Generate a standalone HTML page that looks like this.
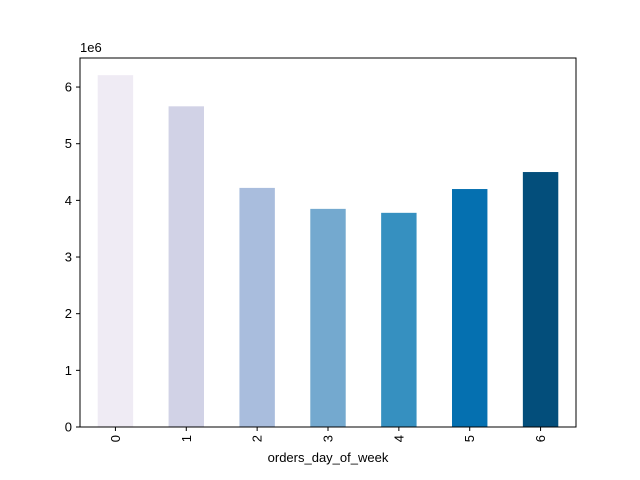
<!DOCTYPE html>
<html><head><meta charset="utf-8"><style>
body{margin:0;background:#fff;}
svg{display:block;font-family:"Liberation Sans","DejaVu Sans",sans-serif;}
</style></head><body>
<svg id="chart" width="640" height="480">
<rect width="640" height="480" fill="#fff"/>
<g id="bars"></g>
<g id="yticks"></g>
<g id="xticks"></g>
<rect x="80" y="58" width="496" height="369" fill="none" stroke="#000" stroke-width="1"/>
<text x="80" y="52" font-size="13">1e6</text>
<text x="328" y="462" font-size="13" text-anchor="middle">orders_day_of_week</text>
</svg>
<script>
const categories=["0","1","2","3","4","5","6"];
const values=[6.21,5.66,4.22,3.85,3.78,4.20,4.50];
const colors=["#efebf4","#d1d2e6","#a9bddd","#74a9cf","#3690c0","#0570b0","#034e7b"];
const yTickLabels=["0","1","2","3","4","5","6"];
const yTickValues=[0,1,2,3,4,5,6];
const ns="http://www.w3.org/2000/svg";
const L=80,R=576,T=58,B=427;
const ymax=6.5127;
const y=v=>B-(v/ymax)*(B-T);
const bw=(R-L)/categories.length;
const x=i=>L+bw*(i+0.5);
const bars=document.getElementById('bars');
categories.forEach((c,i)=>{
  const r=document.createElementNS(ns,'rect');
  r.setAttribute('x',x(i)-bw/4);r.setAttribute('width',bw/2);
  r.setAttribute('y',y(values[i]));r.setAttribute('height',B-y(values[i]));
  r.setAttribute('fill',colors[i]);
  
  
  bars.appendChild(r);
  const g=document.getElementById('xticks');
  const l=document.createElementNS(ns,'line');
  l.setAttribute('x1',x(i));l.setAttribute('x2',x(i));l.setAttribute('y1',B);l.setAttribute('y2',B+4);l.setAttribute('stroke','#000');
  
  
  g.appendChild(l);
  const t=document.createElementNS(ns,'text');
  t.setAttribute('transform',`translate(${x(i)+4.5},${B+8}) rotate(-90)`);
  t.setAttribute('text-anchor','end');t.setAttribute('font-size','13');
  t.textContent=c;
  
  
  g.appendChild(t);
});
const yg=document.getElementById('yticks');
yTickValues.forEach((v,i)=>{
  const l=document.createElementNS(ns,'line');
  l.setAttribute('x1',L-4);l.setAttribute('x2',L);l.setAttribute('y1',y(v));l.setAttribute('y2',y(v));l.setAttribute('stroke','#000');
  
  
  yg.appendChild(l);
  const t=document.createElementNS(ns,'text');
  t.setAttribute('x',L-8);t.setAttribute('y',y(v)+4.5);t.setAttribute('text-anchor','end');t.setAttribute('font-size','13');
  t.textContent=yTickLabels[i];
  
  
  yg.appendChild(t);
});
</script>
</body></html>
